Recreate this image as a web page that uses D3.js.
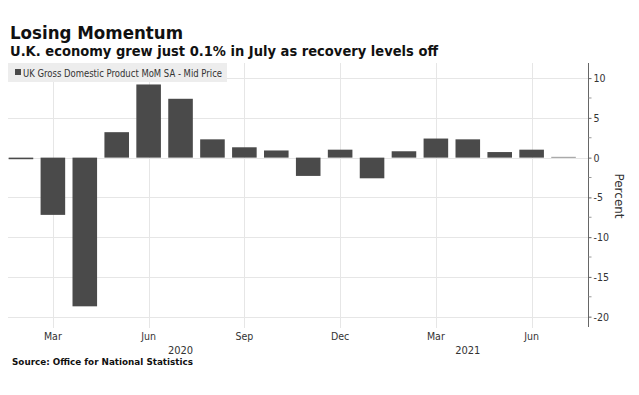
<!DOCTYPE html>
<html>
<head>
<meta charset="utf-8">
<script src="https://cdn.jsdelivr.net/npm/d3@7"></script>
<style>
  html, body { margin: 0; padding: 0; background: #fff; }
  svg { display: block; }
  text { font-family: "DejaVu Sans", Verdana, sans-serif; }
</style>
</head>
<body>
<svg id="chart" width="639" height="395"></svg>
<script>
// ---- Data ----
const months = ["2020-02","2020-03","2020-04","2020-05","2020-06","2020-07","2020-08","2020-09","2020-10","2020-11","2020-12","2021-01","2021-02","2021-03","2021-04","2021-05","2021-06","2021-07"];
const values = [-0.2, -7.2, -18.7, 3.2, 9.2, 7.4, 2.3, 1.3, 0.9, -2.3, 1.0, -2.6, 0.8, 2.4, 2.3, 0.7, 1.0, 0.1];
const tickMonths = ["2020-03","2020-06","2020-09","2020-12","2021-03","2021-06"];
const tickLabels = ["Mar","Jun","Sep","Dec","Mar","Jun"];
const years = ["2020","2021"];
const yTicks = [-20, -15, -10, -5, 0, 5, 10];
const yMinorTicks = [-17.5, -12.5, -7.5, -2.5, 2.5, 7.5];

const title = "Losing Momentum";
const subtitle = "U.K. economy grew just 0.1% in July as recovery levels off";
const legendLabel = "UK Gross Domestic Product MoM SA - Mid Price";
const source = "Source: Office for National Statistics";

// ---- Layout ----
const svg = d3.select("#chart");
const plotLeft = 5, plotRight = 579.5, axisX = 588, plotTop = 63, plotBottom = 327;

const x = d3.scaleBand().domain(months).range([plotLeft, plotRight]).paddingInner(0.23).paddingOuter(0.115);
const y = d3.scaleLinear().domain([-21.3, 11.9]).range([plotBottom, plotTop]);
const xc = m => x(m) + x.bandwidth() / 2;

// horizontal gridlines
svg.append("g").selectAll("line").data(yTicks).join("line")
  .attr("x1", 8).attr("x2", axisX)
  .attr("y1", d => Math.round(y(d)) + 0.5).attr("y2", d => Math.round(y(d)) + 0.5)
  .attr("stroke", "#e6e6e6").attr("stroke-width", 1);

// vertical gridlines
svg.append("g").selectAll("line").data(tickMonths).join("line")
  .attr("x1", d => Math.round(xc(d)) + 0.5).attr("x2", d => Math.round(xc(d)) + 0.5)
  .attr("y1", plotTop).attr("y2", 328)
  .attr("stroke", "#e6e6e6").attr("stroke-width", 1);

// legend
const lg = svg.append("g");
lg.append("rect").attr("x", 8).attr("y", 63).attr("width", 219).attr("height", 19).attr("fill", "#ededed");
lg.append("rect").attr("x", 15).attr("y", 69).attr("width", 6).attr("height", 6).attr("fill", "#4a4a4a");
lg.append("text").attr("x", 23).attr("y", 77).attr("font-size", 10.5).attr("fill", "#333")
  .attr("textLength", 199).attr("lengthAdjust", "spacingAndGlyphs").text(legendLabel);

// bars
svg.append("g").selectAll("rect").data(months).join("rect")
  .attr("x", d => x(d))
  .attr("width", x.bandwidth())
  .attr("y", (d, i) => y(Math.max(0, values[i])))
  .attr("height", (d, i) => Math.max(1, Math.abs(y(values[i]) - y(0))))
  .attr("fill", (d, i) => Math.abs(values[i]) < 0.15 ? "#9a9a9a" : "#4a4a4a");

// right axis
const yAxis = svg.append("g").attr("transform", `translate(${axisX + 0.5},0)`)
  .call(d3.axisRight(y).tickValues(yTicks).tickSize(3).tickPadding(2).tickFormat(d3.format("d")));
yAxis.select(".domain").attr("d", `M0,${plotTop}V${plotBottom}`).attr("stroke", "#666");
yAxis.selectAll(".tick line").attr("stroke", "#666");
yAxis.selectAll(".tick text").attr("font-size", 10.5).attr("fill", "#333")
  .attr("font-family", "DejaVu Sans").style("font-stretch", "condensed")
  .text(d => d < 0 ? "-" + Math.abs(d) : d);
yAxis.append("g").selectAll("line").data(yMinorTicks).join("line")
  .attr("x1", 0).attr("x2", 3).attr("y1", d => y(d)).attr("y2", d => y(d)).attr("stroke", "#999");

// Percent label
svg.append("text").attr("transform", `translate(615,196) rotate(90)`)
  .attr("text-anchor", "middle").attr("font-size", 12).attr("fill", "#333").text("Percent");

// x labels
svg.append("g").selectAll("text").data(tickMonths).join("text")
  .attr("x", d => xc(d)).attr("y", 340).attr("text-anchor", "middle")
  .attr("font-size", 10.5).attr("fill", "#333").style("font-stretch", "condensed")
  .text((d, i) => tickLabels[i]);

// year labels: centred in visible part of each year
const yearBoundary = x("2021-01") - x.step() * x.paddingInner() / 2;
const yearCenters = [(plotLeft + yearBoundary) / 2, (yearBoundary + plotRight) / 2];
svg.append("g").selectAll("text").data(years).join("text")
  .attr("x", (d, i) => yearCenters[i]).attr("y", 353.5).attr("text-anchor", "middle")
  .attr("font-size", 11).attr("fill", "#333").style("font-stretch", "condensed")
  .text(d => d);

// titles
svg.append("text").attr("x", 10).attr("y", 39).attr("font-size", 17.5).attr("font-weight", "bold")
  .attr("fill", "#111").attr("textLength", 173).attr("lengthAdjust", "spacingAndGlyphs").text(title);
svg.append("text").attr("x", 10).attr("y", 55.7).attr("font-size", 14).attr("font-weight", "bold")
  .attr("fill", "#111").attr("textLength", 428).attr("lengthAdjust", "spacingAndGlyphs").text(subtitle);
svg.append("text").attr("x", 12).attr("y", 365.3).attr("font-size", 9.5).attr("font-weight", "bold")
  .attr("fill", "#111").attr("textLength", 181).attr("lengthAdjust", "spacingAndGlyphs").text(source);
</script>
</body>
</html>
